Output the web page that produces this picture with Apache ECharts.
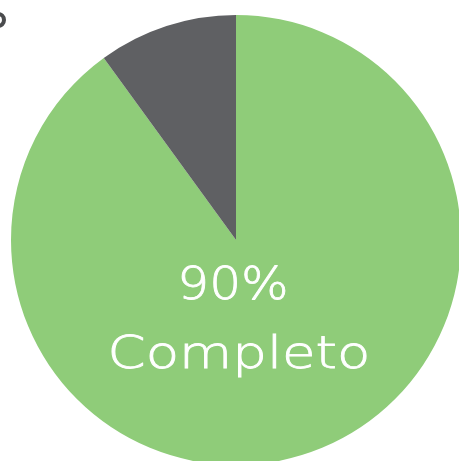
<!DOCTYPE html>
<html>
<head>
<meta charset="utf-8">
<script src="https://cdn.jsdelivr.net/npm/echarts@6/dist/echarts.min.js"></script>
<style>
  html, body { margin: 0; padding: 0; background: #fff; }
  #chart { width: 459px; height: 461px; }
</style>
</head>
<body>
<div id="chart"></div>
<script>
// datos del gráfico
const categories = ["Completo", "Pendiente"];
const values = [90, 10];
const colors = ["#8fcc79", "#5f6063"];

const chart = echarts.init(document.getElementById("chart"));

const labelFont = {
  fill: "#fff",
  stroke: "#fff",
  lineWidth: 0.8,
  fontFamily: "DejaVu Sans",
  fontWeight: 200,
  fontSize: 44,
  align: "center",
  verticalAlign: "middle",
};

const option = {
  animation: false,
  graphic: [
    {
      type: "circle",
      shape: { cx: -2, cy: 20, r: 6 },
      style: { fill: "none", stroke: "#4a4b4d", lineWidth: 4 },
    },
    {
      type: "text",
      x: 233,
      y: 288,
      scaleX: 1.14,
      z: 10,
      style: Object.assign({ text: values[0] + "%" }, labelFont),
    },
    {
      type: "text",
      x: 239,
      y: 357,
      scaleX: 1.24,
      z: 10,
      style: Object.assign({ text: categories[0] }, labelFont),
    },
  ],
  series: [
    {
      type: "pie",
      center: [236, 240],
      radius: 225,
      startAngle: 90,
      clockwise: true,
      label: { show: false },
      labelLine: { show: false },
      silent: true,
      data: categories.map((name, i) => ({
        name: name,
        value: values[i],
        itemStyle: { color: colors[i] },
      })),
    },
  ],
};

chart.setOption(option);
</script>
</body>
</html>
